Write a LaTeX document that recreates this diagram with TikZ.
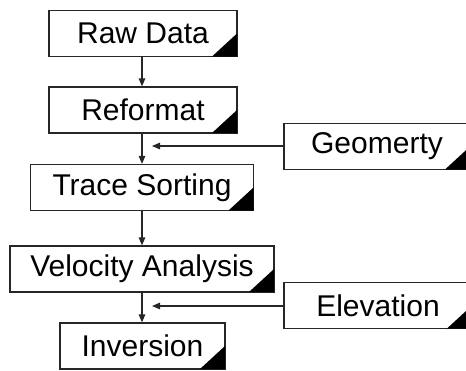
\documentclass[tikz,border=0pt]{standalone}
\usepackage{fontspec}
\setmainfont{Liberation Sans}
\usetikzlibrary{arrows.meta,positioning,calc}

\tikzset{
  stage/.style={draw=black!85, line width=1.2pt, fill=white, minimum height=46pt,
    inner sep=0pt, font=\fontsize{30}{34}\selectfont},
  flow/.style={draw=black!85, line width=1.2pt, -{Triangle[length=8pt,width=6.5pt]}}
}

\begin{document}
\begin{tikzpicture}[x=1pt,y=-1pt]
    \useasboundingbox (0,0) rectangle (466,370);
    \clip (0,0) rectangle (466,370);

    % main chain
    \node[stage, minimum width=188pt] (raw) at (143,33.5) {Raw Data};
    \node[stage, minimum width=188pt] (reformat) at (143,110) {Reformat};
    \node[stage, minimum width=223pt] (sorting) at (142,187.5) {Trace Sorting};
    \node[stage, minimum width=264pt] (velocity) at (142,269) {Velocity Analysis};
    \node[stage, minimum width=165pt] (inversion) at (142.5,346) {Inversion};

    % side inputs
    \node[stage, minimum width=186pt] (geometry) at (377,146.5) {Geomerty};
    \node[stage, minimum width=188pt] (elevation) at (378,305.5) {Elevation};

    % black corner on every box
    \foreach \n in {raw,reformat,sorting,velocity,inversion,geometry,elevation}
      \fill ([shift={(-0.6pt,0.6pt)}]\n.south east) -- ++(-25pt,0pt) -- ++(25pt,23pt) -- cycle;

    \coordinate (join1) at (142,146);
    \coordinate (join2) at (142,306);

    \draw[flow] (raw.south -| join1) -- (reformat.north -| join1);
    \draw[flow] (reformat.south -| join1) -- (sorting.north -| join1);
    \draw[flow] (sorting.south -| join1) -- (velocity.north -| join1);
    \draw[flow] (velocity.south -| join1) -- (inversion.north -| join1);

    \draw[flow, shorten >=10pt] (geometry.west |- join1) -- (join1);
    \draw[flow, shorten >=10pt] (elevation.west |- join2) -- (join2);
\end{tikzpicture}
\end{document}
